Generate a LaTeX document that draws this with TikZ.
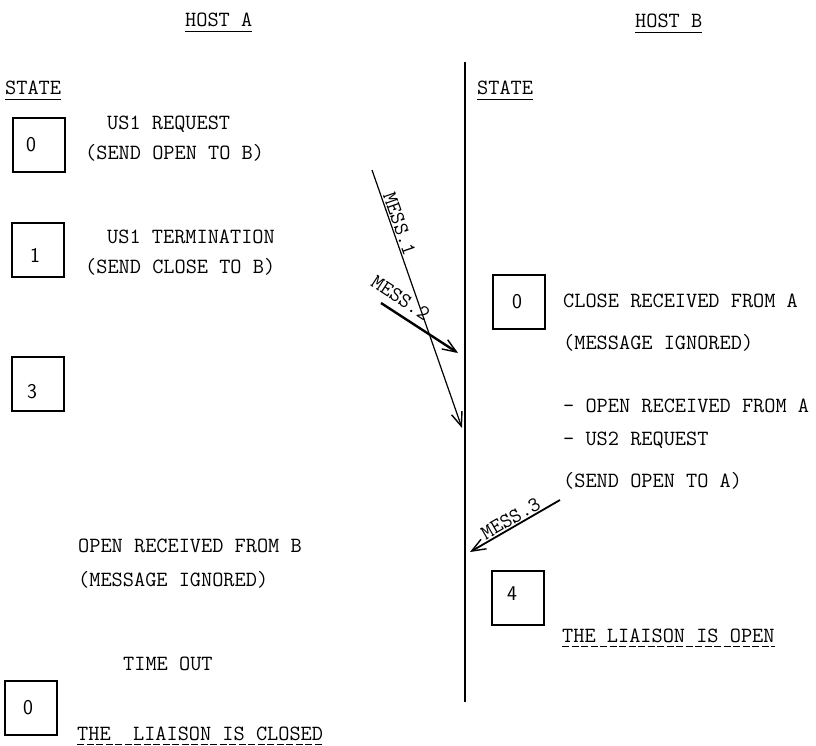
\documentclass[tikz,border=0pt]{standalone}
\usepackage{fontspec}
\usetikzlibrary{arrows.meta}
\begin{document}
\begin{tikzpicture}[x=1pt,y=-1pt,
  txt/.style={font=\ttfamily\fontsize{21.7}{26}\selectfont, inner sep=0pt, anchor=base west},
  msg/.style={font=\ttfamily\fontsize{21}{24}\selectfont, inner sep=1pt},
  statebox/.style={draw, line width=1.2pt, minimum width=52pt, minimum height=54pt, inner sep=0pt},
  digit/.style={font=\sffamily\fontsize{21}{24}\selectfont, inner sep=0pt},
  uline/.style={line width=1pt},
  dline/.style={line width=1pt, dash pattern=on 7pt off 2.5pt},
  arr/.style={-{Straight Barb[length=14pt,width=11pt,line width=1.4pt]}}
]
\useasboundingbox (0,0) rectangle (816,746);

% headers
\node[txt] (hosta) at (185,27) {HOST A};
\node[txt] (hostb) at (635,28) {HOST B};
\draw[uline] ([yshift=-5pt]hosta.base west) -- ([yshift=-5pt]hosta.base east);
\draw[uline] ([yshift=-5pt]hostb.base west) -- ([yshift=-5pt]hostb.base east);

\node[txt] (statea) at (5,95) {STATE};
\node[txt] (stateb) at (477,95) {STATE};
\draw[uline] ([yshift=-5pt]statea.base west) -- ([yshift=-5pt]statea.base east);
\draw[uline] ([yshift=-5pt]stateb.base west) -- ([yshift=-5pt]stateb.base east);

% time line of host B
\coordinate (vtop) at (465,62);
\coordinate (vbot) at (465,702);
\draw[line width=1.5pt] (vtop) -- (vbot);

% host A states
\node[statebox] (a0) at (39,145) {};
\node[digit] (a0d) at (31,145) {0};
\node[txt] (t1) at (107,130) {US1 REQUEST};
\node[txt] (t2) at (85,160) {(SEND OPEN TO B)};

\node[statebox] (a1) at (38,250) {};
\node[digit] (a1d) at (35,255) {1};
\node[txt] (t3) at (107,243) {US1 TERMINATION};
\node[txt] (t4) at (85,273) {(SEND CLOSE TO B)};

\node[statebox] (a3) at (38,384) {};
\node[digit] (a3d) at (32,392) {3};

\node[txt] (t5) at (78,552) {OPEN RECEIVED FROM B};
\node[txt] (t6) at (78,586) {(MESSAGE IGNORED)};
\node[txt] (t7) at (123,670) {TIME OUT};

\node[statebox] (a0b) at (31,708) {};
\node[digit] (a0bd) at (28,708) {0};
\node[txt] (t8) at (77,740) {THE\ \ LIAISON IS CLOSED};
\draw[dline] ([yshift=-4pt]t8.base west) -- ([yshift=-4pt]t8.base east);

% host B states
\node[statebox] (b0) at (519,302) {};
\node[digit] (b0d) at (517,302) {0};
\node[txt] (u1) at (563,307) {CLOSE RECEIVED FROM A};
\node[txt] (u2) at (563,349) {(MESSAGE IGNORED)};
\node[txt] (u3) at (563,412) {- OPEN RECEIVED FROM A};
\node[txt] (u4) at (563,445) {- US2 REQUEST};
\node[txt] (u5) at (563,487) {(SEND OPEN TO A)};

\node[statebox] (b4) at (518,598) {};
\node[digit] (b4d) at (512,594) {4};
\node[txt] (u6) at (562,642) {THE LIAISON IS OPEN};
\draw[dline] ([yshift=-4pt]u6.base west) -- ([yshift=-4pt]u6.base east);

% messages
\coordinate (m1s) at (372,170);
\coordinate (m1e) at (462,428);
\draw[arr, line width=1.2pt] (m1s) -- node[msg, sloped, above, pos=0.22] (m1l) {MESS.1} (m1e);

\coordinate (m2s) at (381,303);
\coordinate (m2e) at (458,353);
\draw[arr, line width=2.4pt] (m2s) -- node[msg, sloped, above=6pt, pos=0.15] (m2l) {MESS.2} (m2e);

\coordinate (m3s) at (560,500);
\coordinate (m3e) at (470,552);
\draw[arr, line width=1.8pt] (m3s) -- node[msg, sloped, above, pos=0.5] (m3l) {MESS.3} (m3e);
\end{tikzpicture}
\end{document}
